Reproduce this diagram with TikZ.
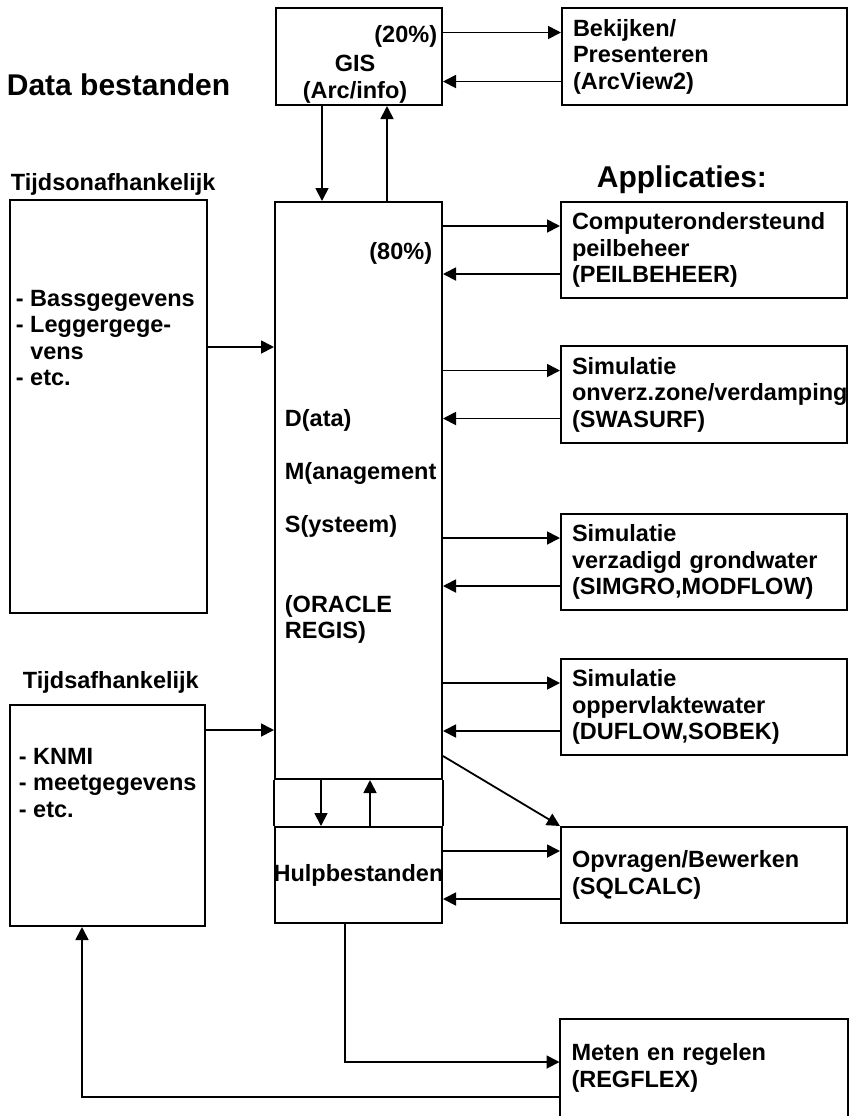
\documentclass[tikz,border=0pt]{standalone}
\usepackage{fontspec}
\setmainfont{Liberation Sans}
\usetikzlibrary{arrows.meta}

\begin{document}
\begin{tikzpicture}
		[x=0.5pt,y=-0.5pt,line width=0.9pt,
		every node/.style={font=\bfseries\fontsize{11.75}{13.25}\selectfont,inner sep=0pt,align=left},
		kop/.style={font=\bfseries\fontsize{15}{17}\selectfont},
		box/.style={draw,rectangle,line width=1pt},
		appbox/.style={box,text width=132pt,inner xsep=5.5pt,minimum height=48pt},
		arr/.style={-{Triangle[length=6.5pt,width=6.5pt]}}]
		\useasboundingbox (0,0) rectangle (851,1116);
		% koppen
		\node [kop,anchor=base west] (databest) at (6,95.5) {Data bestanden};
		\node [anchor=base west] (onafh) at (10,190) {Tijdsonafhankelijk};
		\node [anchor=base west] (afh) at (22,688) {Tijdsafhankelijk};
		\node [kop,anchor=base west] (appl) at (596,187.5) {Applicaties:};
		% blokken
		\node [box,minimum width=83pt,minimum height=48.5pt](gis) at (359,56.5) {};
		\node [anchor=north east](pct20) at (438,24.5) {(20\%)};
		\node [anchor=north,align=center](gisnaam) at (355,54.5) {GIS\\(Arc/info)};
		\node [appbox,text width=131.5pt,minimum height=48.5pt](bek) at (704.5,56.5) {Bekijken/\\Presenteren\\(ArcView2)};
		\node [box,minimum width=98.5pt,minimum height=206.5pt](tonaf) at (108.5,406.5) {};
		\node [anchor=north west](tonaftxt) at (15,289) {- Bassgegevens\\- Leggergege-\\\phantom{- }vens\\- etc.};
		\node [box,minimum width=97.5pt,minimum height=110.5pt](taf) at (107.5,815.5) {};
		\node [anchor=north west](taftxt) at (18,747) {- KNMI\\- meetgegevens\\- etc.};
		\node [box,minimum width=83.5pt,minimum height=288.5pt](dms) at (358.5,490.5) {};
		\node [anchor=north east](pct80) at (433,241.5) {(80\%)};
		\node [anchor=north west](dmstxt) at (284,409) {D(ata)\\[13.25pt]M(anagement\\[13.25pt]S(ysteem)\\[26.5pt](ORACLE\\REGIS)};
		\node [box,minimum width=83.5pt,minimum height=48pt](hulp) at (358.5,875) {};
		\node (hulptxt) at (hulp.center) {Hulpbestanden};
		\draw (dms.south west) -- (hulp.north west);
		\draw (dms.south east) -- (hulp.north east);
		\node [appbox](app1) at (704,250) {Computerondersteund\\peilbeheer\\(PEILBEHEER)};
		\node [appbox,minimum height=48.5pt](app2) at (704,394.5) {Simulatie\\onverz.zone/verdamping\\(SWASURF)};
		\node [appbox](app3) at (704,562) {Simulatie\\verzadigd grondwater\\(SIMGRO,MODFLOW)};
		\node [appbox](app4) at (704,707) {Simulatie\\oppervlaktewater\\(DUFLOW,SOBEK)};
		\node [appbox](opv) at (704,875) {Opvragen/Bewerken\\(SQLCALC)};
		\node [appbox,draw=none](meten) at (703.5,1068) {Meten en regelen\\(REGFLEX)};
		\draw [line width=1pt] (meten.south west) |- (meten.north east) -- (meten.south east);
		% pijlen
		\draw [arr] ([yshift=12pt]gis.east) -- ([yshift=12pt]gis.east -| bek.west);
		\draw [arr] ([yshift=-12.5pt]bek.west) -- ([yshift=-12.5pt]bek.west -| gis.east);
		\draw [arr] ([xshift=-18.5pt]gis.south) -- ([xshift=-18.5pt]gis.south |- dms.north);
		\draw [arr] ([xshift=14pt]gis.south |- dms.north) -- ([xshift=14pt]gis.south);
		\draw [arr] ([yshift=29.75pt]tonaf.east) -- ([yshift=29.75pt]tonaf.east -| dms.west);
		\draw [arr] ([yshift=42.75pt]taf.east) -- ([yshift=42.75pt]taf.east -| dms.west);
		\draw [arr] ([yshift=12pt]app1.west -| dms.east) -- ([yshift=12pt]app1.west);
		\draw [arr] ([yshift=-12pt]app1.west) -- ([yshift=-12pt]app1.west -| dms.east);
		\draw [arr] ([yshift=12pt]app2.west -| dms.east) -- ([yshift=12pt]app2.west);
		\draw [arr] ([yshift=-12pt]app2.west) -- ([yshift=-12pt]app2.west -| dms.east);
		\draw [arr] ([yshift=12pt]app3.west -| dms.east) -- ([yshift=12pt]app3.west);
		\draw [arr] ([yshift=-12pt]app3.west) -- ([yshift=-12pt]app3.west -| dms.east);
		\draw [arr] ([yshift=12pt]app4.west -| dms.east) -- ([yshift=12pt]app4.west);
		\draw [arr] ([yshift=-12pt]app4.west) -- ([yshift=-12pt]app4.west -| dms.east);
		\draw [arr] ([yshift=12pt]dms.south east) -- (opv.north west);
		\draw [arr] ([yshift=12pt]opv.west -| hulp.east) -- ([yshift=12pt]opv.west);
		\draw [arr] ([yshift=-12pt]opv.west) -- ([yshift=-12pt]opv.west -| hulp.east);
		\draw [arr] ([xshift=-18.75pt]dms.south) -- ([xshift=-18.75pt]hulp.north);
		\draw [arr] ([xshift=5.75pt]hulp.north) -- ([xshift=5.75pt]dms.south);
		\draw [arr] ([xshift=-6.75pt]hulp.south) |- ([yshift=3pt]meten.west);
		\draw [arr] ([yshift=-14.5pt]meten.west) -| ([xshift=-12.75pt]taf.south);
	\end{tikzpicture}
\end{document}
